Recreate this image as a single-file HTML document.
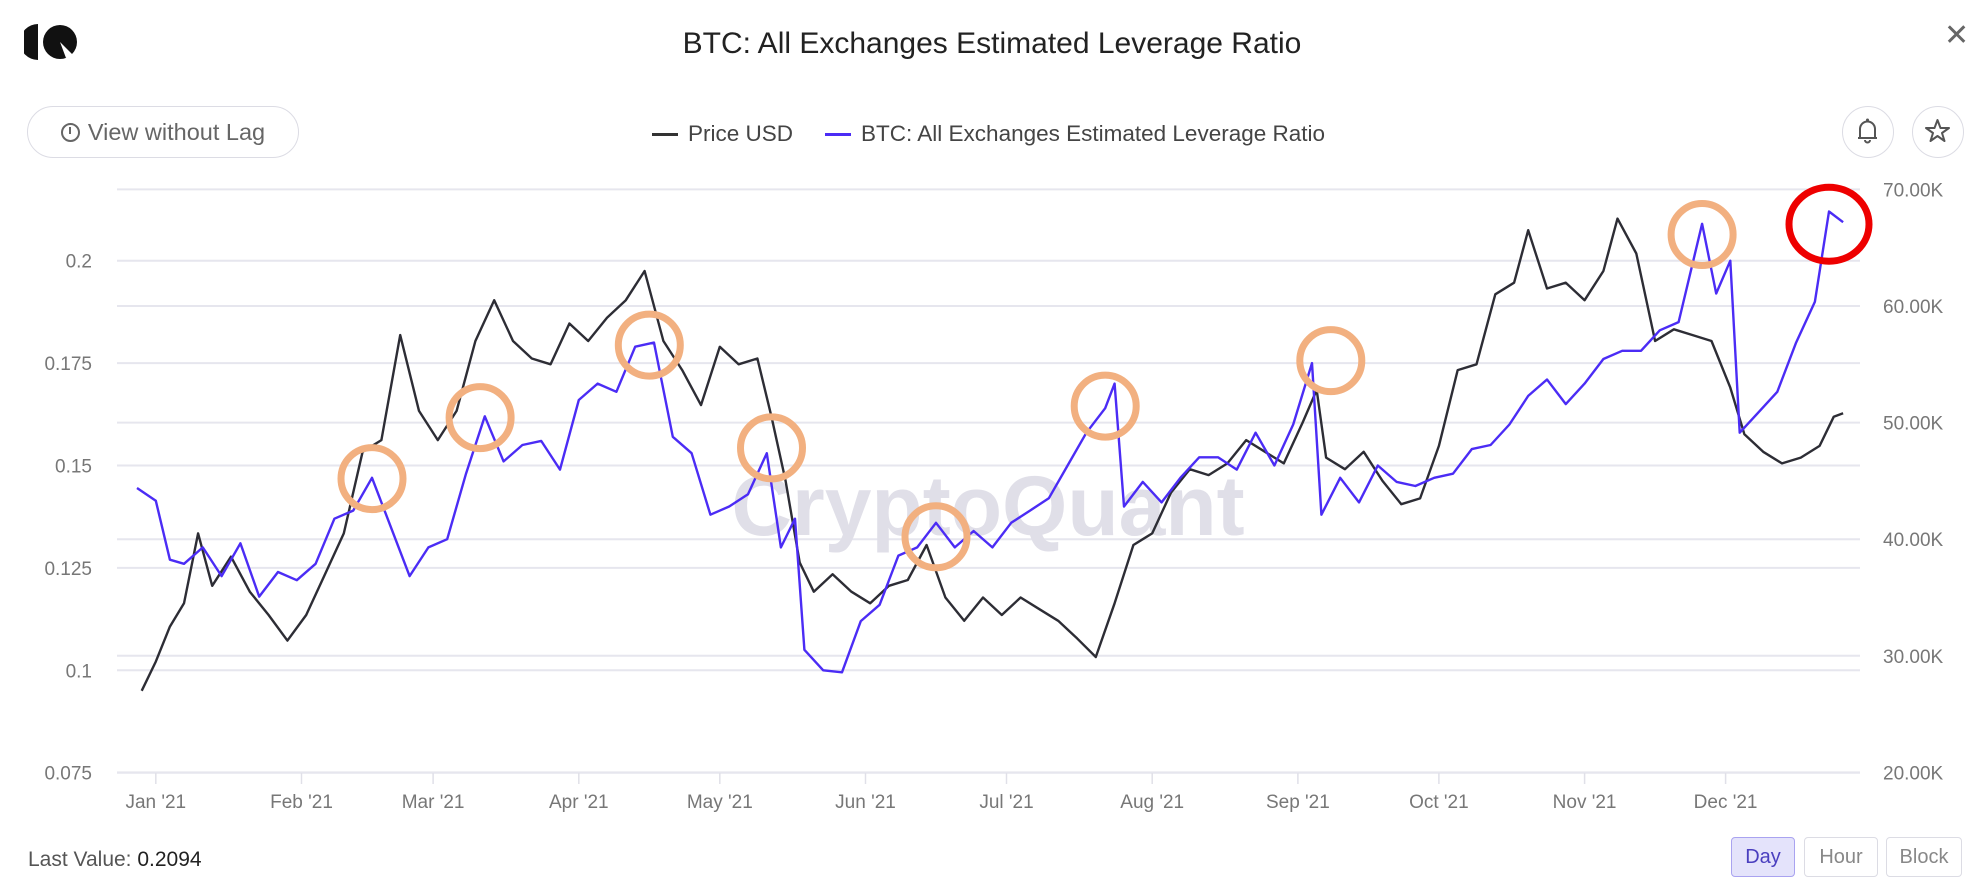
<!DOCTYPE html>
<html><head><meta charset="utf-8">
<style>
html,body{margin:0;padding:0;background:#fff;}
body{width:1984px;height:888px;position:relative;overflow:hidden;font-family:"Liberation Sans",sans-serif;}
.abs{position:absolute;}
.btn{position:absolute;border:1.5px solid #dcdce4;border-radius:4px;background:#fff;color:#888;font-size:20px;display:flex;align-items:center;justify-content:center;box-sizing:border-box;}
</style></head>
<body>
<svg class="abs" style="left:24px;top:24px" width="56" height="36" viewBox="0 0 56 36">
<path d="M14 0 A18 18 0 0 0 14 36 Z" fill="#111"/>
<circle cx="36" cy="18" r="17" fill="#111"/>
<path d="M36 18 L50 32 L42 34 Z" fill="#fff"/>
</svg>
<div class="abs" style="left:0;width:1984px;top:27px;text-align:center;font-size:30px;color:#222;">BTC: All Exchanges Estimated Leverage Ratio</div>
<div class="abs" style="left:1944px;top:18px;font-size:30px;color:#666;">✕</div>
<div class="abs" style="left:27px;top:106px;width:272px;height:52px;border:1.5px solid #dcdce4;border-radius:26px;box-sizing:border-box;display:flex;align-items:center;justify-content:center;color:#666;font-size:23.5px;"><span style="display:inline-block;width:19px;height:19px;border:2px solid #666;border-radius:50%;margin-right:8px;box-sizing:border-box;position:relative"><span style="position:absolute;left:6.5px;top:2px;width:2px;height:7px;background:#666"></span></span>View without Lag</div>
<div class="abs" style="left:652px;top:121px;font-size:22.5px;color:#444;display:flex;align-items:center;">
<span style="display:flex;align-items:center"><span style="width:26px;height:3px;background:#333;margin-right:10px"></span>Price USD</span>
<span style="display:flex;align-items:center;margin-left:32px"><span style="width:26px;height:3px;background:#4b2cf5;margin-right:10px"></span>BTC: All Exchanges Estimated Leverage Ratio</span>
</div>
<div class="abs" style="left:1842px;top:106px;width:52px;height:52px;border:1.5px solid #dcdce4;border-radius:50%;box-sizing:border-box;">
<svg width="49" height="49" viewBox="0 0 49 49"><path d="M17 31 V22 A7.5 7.5 0 0 1 32 22 V31 Z M15 31 H34" fill="none" stroke="#555" stroke-width="2"/><circle cx="24.5" cy="13" r="1.5" fill="#555"/><path d="M22 33 A2.5 2.5 0 0 0 27 33" fill="none" stroke="#555" stroke-width="2"/></svg></div>
<div class="abs" style="left:1912px;top:106px;width:52px;height:52px;border:1.5px solid #dcdce4;border-radius:50%;box-sizing:border-box;">
<svg width="49" height="49" viewBox="0 0 49 49"><polygon points="24.5,13 27.5,21 36,21 29,26 31.5,34 24.5,29 17.5,34 20,26 13,21 21.5,21" fill="none" stroke="#555" stroke-width="2" stroke-linejoin="round"/></svg></div>

<svg id="chart" class="abs" style="left:0;top:0" width="1984" height="888"></svg>

<div class="abs" style="left:28px;top:848px;font-size:21px;color:#555;">Last Value: <span style="color:#222">0.2094</span></div>
<div class="btn" style="left:1731px;top:837px;width:64px;height:40px;background:#e4e3fb;border-color:#a9a3f0;color:#4a3fbf;">Day</div>
<div class="btn" style="left:1804px;top:837px;width:74px;height:40px;">Hour</div>
<div class="btn" style="left:1886px;top:837px;width:76px;height:40px;">Block</div>

<script>
const monthLabels=["Jan '21","Feb '21","Mar '21","Apr '21","May '21","Jun '21","Jul '21","Aug '21","Sep '21","Oct '21","Nov '21","Dec '21"];
const monthDays=[0,31,59,90,120,151,181,212,243,273,304,334];
const leftTicks=[0.075,0.1,0.125,0.15,0.175,0.2];
const leftTickLabels=["0.075","0.1","0.125","0.15","0.175","0.2"];
const rightTicks=[20,30,40,50,60,70];
const rightTickLabels=["20.00K","30.00K","40.00K","50.00K","60.00K","70.00K"];
const ratioDays=[-4,0,3,6,10,14,18,22,26,30,34,38,42,46,50,54,58,62,66,70,74,78,82,86,90,94,98,102,106,110,114,118,122,126,130,133,136,138,142,146,150,154,158,162,166,170,174,178,182,186,190,194,198,202,204,206,210,214,218,222,226,230,234,238,242,246,248,252,256,260,264,268,272,276,280,284,288,292,296,300,304,308,312,316,320,324,329,332,335,337,341,345,349,353,356,359];
const ratioValues=[0.1445,0.1414,0.127,0.126,0.13,0.123,0.131,0.118,0.124,0.122,0.126,0.137,0.139,0.147,0.135,0.123,0.13,0.132,0.148,0.162,0.151,0.155,0.156,0.149,0.166,0.17,0.168,0.179,0.18,0.157,0.153,0.138,0.14,0.143,0.153,0.13,0.137,0.105,0.1,0.0995,0.112,0.116,0.128,0.13,0.136,0.13,0.134,0.13,0.136,0.139,0.142,0.15,0.158,0.164,0.17,0.14,0.146,0.141,0.147,0.152,0.152,0.149,0.158,0.15,0.16,0.175,0.138,0.147,0.141,0.15,0.146,0.145,0.147,0.148,0.154,0.155,0.16,0.167,0.171,0.165,0.17,0.176,0.178,0.178,0.183,0.185,0.209,0.192,0.2,0.158,0.163,0.168,0.18,0.19,0.212,0.2094];
const priceDays=[-3,0,3,6,9,12,16,20,24,28,32,36,40,44,48,52,56,60,64,68,72,76,80,84,88,92,96,100,104,108,112,116,120,124,128,131,134,137,140,144,148,152,156,160,164,168,172,176,180,184,188,192,196,200,204,208,212,216,220,224,228,232,236,240,244,247,249,253,257,261,265,269,273,277,281,285,289,292,296,300,304,308,311,315,319,323,327,331,335,338,342,346,350,354,357,359];
const priceValues=[27.0,29.5,32.5,34.5,40.5,36,38.5,35.5,33.5,31.3,33.5,37,40.5,47.5,48.5,57.5,51,48.5,51,57,60.5,57,55.5,55,58.5,57,59,60.5,63,57,54.5,51.5,56.5,55,55.5,50.5,45,38,35.5,37,35.5,34.5,36,36.5,39.5,35,33,35,33.5,35,34,33,31.5,29.9,34.5,39.5,40.5,44,46,45.5,46.5,48.5,47.5,46.5,50,52.8,47,46,47.5,45,43,43.5,48,54.5,55,61,62,66.5,61.5,62,60.5,63,67.5,64.5,57,58,57.5,57,53,49,47.5,46.5,47,48,50.5,50.8];
const circleDays=[46,69,105,131,166,202,250,329];
const circleRatios=[0.1468,0.1617,0.1794,0.1543,0.1326,0.1645,0.1756,0.2064];
const highlightDay=356;
const highlightRatio=0.2089;

const X0=155.8, PXD=4.7, PL=117, PR=1860;
const xs=d=>X0+d*PXD;
const yl=v=>260.7+(0.2-v)/0.025*102.4;
const yr=p=>189.4+(70-p)/10*116.6;
const NS="http://www.w3.org/2000/svg";
const svg=document.getElementById('chart');
function mk(tag,attrs,parent){const e=document.createElementNS(NS,tag);for(const k in attrs)e.setAttribute(k,attrs[k]);(parent||svg).appendChild(e);return e;}

leftTicks.forEach((t,i)=>{
  const g=mk('line',{x1:PL,x2:PR,y1:yl(t),y2:yl(t),stroke:'#e6e6ee','stroke-width':2});
  
  
  const tx=mk('text',{x:92,y:yl(t)+7,'text-anchor':'end','font-size':19,fill:'#777','font-family':'Liberation Sans, sans-serif'});
  tx.textContent=leftTickLabels[i];
  
  
});
rightTicks.forEach((t,i)=>{
  const g=mk('line',{x1:PL,x2:PR,y1:yr(t),y2:yr(t),stroke:'#e6e6ee','stroke-width':2});
  
  
  const tx=mk('text',{x:1883,y:yr(t)+7,'font-size':19,fill:'#777','font-family':'Liberation Sans, sans-serif'});
  tx.textContent=rightTickLabels[i];
  
  
});
monthDays.forEach((d,i)=>{
  const l=mk('line',{x1:xs(d),x2:xs(d),y1:773,y2:784,stroke:'#e0e0e8','stroke-width':1.5});
  
  
  const tx=mk('text',{x:xs(d),y:808,'text-anchor':'middle','font-size':19,fill:'#777','font-family':'Liberation Sans, sans-serif'});
  tx.textContent=monthLabels[i];
  
  
});
const wm=mk('text',{x:988,y:535,'text-anchor':'middle','font-size':84,'font-weight':'bold',fill:'#e0dfe8','font-family':'Liberation Sans, sans-serif'});
wm.textContent='CryptoQuant';



const pp=mk('polyline',{points:priceDays.map((d,i)=>xs(d).toFixed(1)+','+yr(priceValues[i]).toFixed(1)).join(' '),fill:'none',stroke:'#2d2d35','stroke-width':2.4,'stroke-linejoin':'round'});


const rp=mk('polyline',{points:ratioDays.map((d,i)=>xs(d).toFixed(1)+','+yl(ratioValues[i]).toFixed(1)).join(' '),fill:'none',stroke:'#4b2cf5','stroke-width':2.4,'stroke-linejoin':'round'});



circleDays.forEach((d,i)=>{
  const c=mk('circle',{cx:xs(d),cy:yl(circleRatios[i]),r:31,fill:'none',stroke:'#f2b080','stroke-width':7});
  
  
});
const rc=mk('ellipse',{cx:xs(highlightDay),cy:yl(highlightRatio),rx:40,ry:37,fill:'none',stroke:'#ee0000','stroke-width':7});


</script>
</body></html>
